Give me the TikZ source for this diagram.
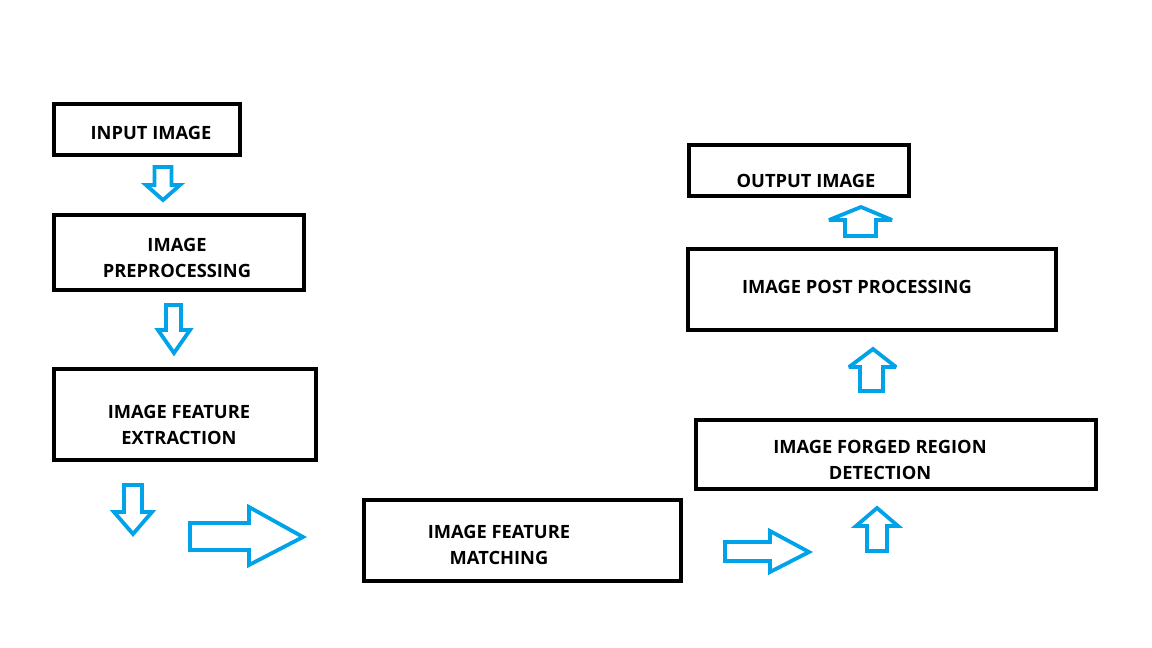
\documentclass[tikz,border=0pt]{standalone}
\usepackage{fontspec}
\setmainfont{Open Sans}
\definecolor{arrowblue}{HTML}{00A2E8}
\begin{document}
\begin{tikzpicture}[x=1pt,y=-1pt,
  box/.style={draw=black,line width=4pt},
  lbl/.style={font=\bfseries\fontsize{18.3}{26}\selectfont,align=center,inner sep=0pt},
  barrow/.style={draw=arrowblue,line width=3.8pt,line join=miter,miter limit=3,fill=white}]
\useasboundingbox[fill=white] (0,0) rectangle (1152,648);

% boxes
\draw[box] (54,104) rectangle (240,155);
\draw[box] (54,215) rectangle (304,290);
\draw[box] (54,369) rectangle (316,460);
\draw[box] (364,500) rectangle (681,581);
\draw[box] (696,420) rectangle (1096,489);
\draw[box] (688,249) rectangle (1056,330);
\draw[box] (689,145) rectangle (909,196);

% labels
\node[lbl] (input) at (151,133) {INPUT IMAGE};
\node[lbl] (pre) at (177,258) {IMAGE\\PREPROCESSING};
\node[lbl] (fext) at (179,425) {IMAGE FEATURE\\EXTRACTION};
\node[lbl] (fmatch) at (499,545) {IMAGE FEATURE\\MATCHING};
\node[lbl] (forged) at (880,460) {IMAGE FORGED REGION\\DETECTION};
\node[lbl] (post) at (857,287) {IMAGE POST PROCESSING};
\node[lbl] (output) at (806,181) {OUTPUT IMAGE};

% block arrows
\draw[barrow] (154.5,167) -- (171.5,167) -- (171.5,185) -- (180,185) -- (163,200) -- (146,185) -- (154.5,185) -- cycle;
\draw[barrow] (166,305) -- (181,305) -- (181,330) -- (190,330) -- (174,353) -- (158,330) -- (166,330) -- cycle;
\draw[barrow] (124,485) -- (142,485) -- (142,512) -- (152,512) -- (133,534) -- (114,512) -- (124,512) -- cycle;
\draw[barrow] (190,523) -- (249,523) -- (249,507) -- (303,537) -- (249,565) -- (249,550) -- (190,550) -- cycle;
\draw[barrow] (725,542) -- (770,542) -- (770,531) -- (809,552) -- (770,572) -- (770,561) -- (725,561) -- cycle;
\draw[barrow] (867,551) -- (867,526) -- (856,526) -- (877,508) -- (898,526) -- (887,526) -- (887,551) -- cycle;
\draw[barrow] (860,391) -- (860,367) -- (849,367) -- (873,349) -- (896,367) -- (883,367) -- (883,391) -- cycle;
\draw[barrow] (845,236) -- (845,220) -- (829,220) -- (861,207) -- (892,220) -- (876,220) -- (876,236) -- cycle;
\end{tikzpicture}
\end{document}
